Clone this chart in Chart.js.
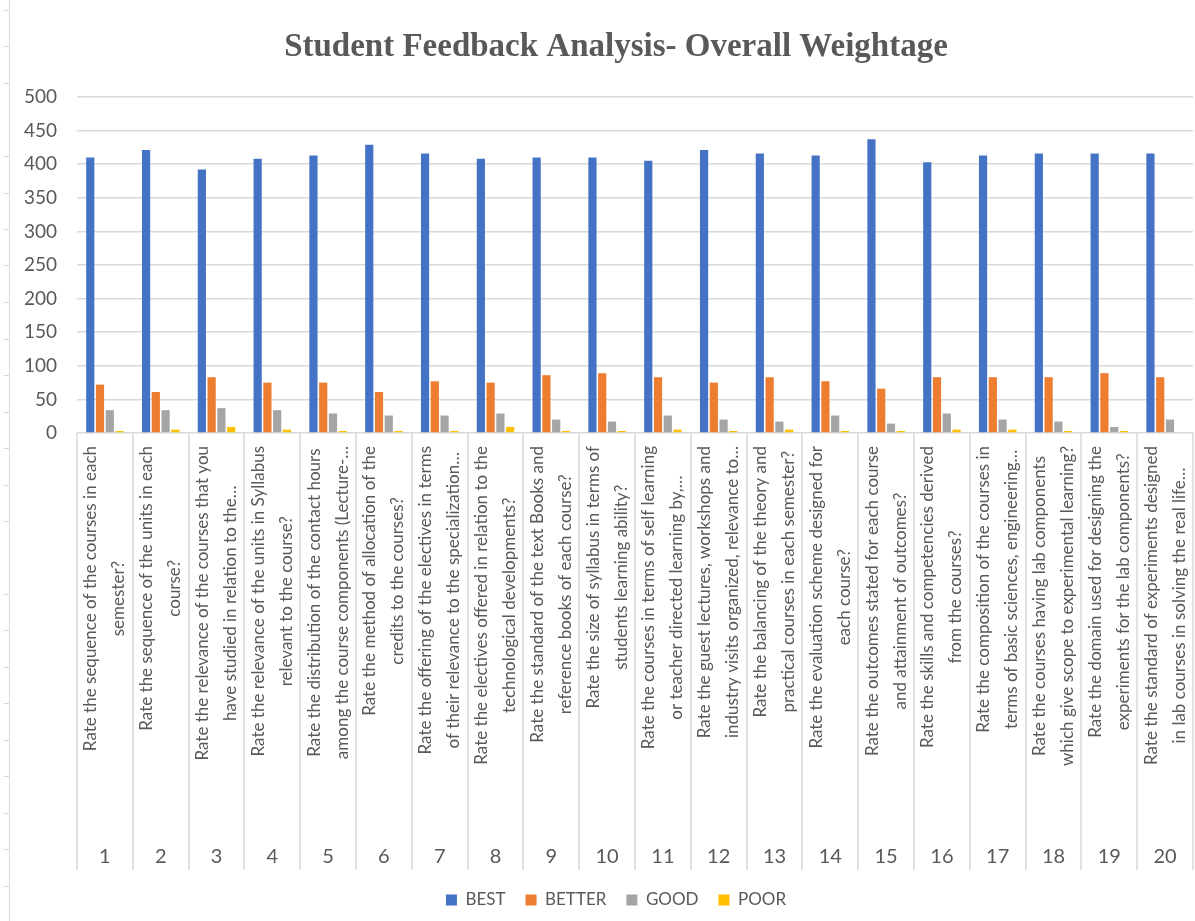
<!DOCTYPE html>
<html>
<head>
<meta charset="utf-8">
<title>Student Feedback Analysis</title>
<script src="https://cdn.jsdelivr.net/npm/chart.js@4.4.0/dist/chart.umd.min.js"></script>
<style>
  html, body { margin: 0; padding: 0; background: #fff; overflow: hidden; }
  #frame { position: absolute; left: 9px; top: 0; width: 1px; height: 921px; background: #d9d9d9; }
  #ticks {
    position: absolute; left: 4px; top: 0; width: 5px; height: 921px;
    background: repeating-linear-gradient(to bottom, transparent 0, transparent 10px, #d9d9d9 10px, #d9d9d9 11px, transparent 11px, transparent 36.5px);
  }
  #wrap { position: absolute; left: 10px; top: 0; width: 1212px; height: 921px; }
</style>
</head>
<body>
<div id="frame"></div>
<div id="ticks"></div>
<div id="wrap"><canvas id="chart"></canvas></div>
<script>
const questionNumbers = ['1', '2', '3', '4', '5', '6', '7', '8', '9', '10',
  '11', '12', '13', '14', '15', '16', '17', '18', '19', '20'];

const questionLabels = [
  ['Rate the sequence of the courses in each', 'semester?'],
  ['Rate the sequence of the units in each', 'course?'],
  ['Rate the relevance of the courses that you', 'have studied in relation to the…'],
  ['Rate the relevance of the units in Syllabus', 'relevant to the course?'],
  ['Rate the distribution of the contact hours', 'among the course components (Lecture-…'],
  ['Rate the method of allocation of the', 'credits to the courses?'],
  ['Rate the offering of the electives in terms', 'of their relevance to the specialization…'],
  ['Rate the electives offered in relation to the', 'technological developments?'],
  ['Rate the standard of the text Books and', 'reference books of each course?'],
  ['Rate the size of syllabus in terms of', 'students learning ability?'],
  ['Rate the courses in terms of self learning', 'or teacher directed learning by,…'],
  ['Rate the guest lectures, workshops and', 'industry visits organized, relevance to…'],
  ['Rate the balancing of the theory and', 'practical courses in each semester?'],
  ['Rate the evaluation scheme designed for', 'each course?'],
  ['Rate the outcomes stated for each course', 'and attainment of outcomes?'],
  ['Rate the skills and competencies derived', 'from the courses?'],
  ['Rate the composition of the courses in', 'terms of basic sciences, engineering…'],
  ['Rate the courses having lab components', 'which give scope to experimental learning?'],
  ['Rate the domain used for designing the', 'experiments for the lab components?'],
  ['Rate the standard of experiments designed', 'in lab courses in solving the real life…']
];

const best   = [410, 421, 392, 408, 413, 429, 416, 408, 410, 410, 405, 421, 416, 413, 437, 403, 413, 416, 416, 416];
const better = [72, 61, 83, 75, 75, 61, 77, 75, 86, 89, 83, 75, 83, 77, 66, 83, 83, 83, 89, 83];
const good   = [34, 34, 37, 34, 29, 26, 26, 29, 20, 17, 26, 20, 17, 26, 14, 29, 20, 17, 9, 20];
const poor   = [3, 5, 9, 5, 3, 3, 3, 9, 3, 3, 5, 3, 5, 3, 3, 5, 5, 3, 3, 0];

const textGray = '#595959';
const lineGray = '#d9d9d9';

// excel style two level category axis: rotated question text + question number
const twoLevelAxis = {
  id: 'twoLevelAxis',
  afterDraw(chart) {
    const { ctx, chartArea, scales: { x } } = chart;
    const top = chartArea.bottom;
    const bottom = top + 437;
    const catW = (chartArea.right - chartArea.left) / questionNumbers.length;
    ctx.save();
    ctx.strokeStyle = lineGray;
    ctx.lineWidth = 1.5;
    for (let i = 0; i <= questionNumbers.length; i++) {
      const bx = Math.round(chartArea.left + i * catW);
      ctx.beginPath();
      ctx.moveTo(bx, top);
      ctx.lineTo(bx, bottom);
      ctx.stroke();
    }
    ctx.fillStyle = textGray;
    ctx.font = '17px Lato';
    ctx.textAlign = 'center';
    ctx.textBaseline = 'middle';
    questionLabels.forEach((lines, i) => {
      const cx = x.getPixelForValue(i);
      const maxW = Math.max(...lines.map(l => ctx.measureText(l).width));
      const cy = top + 13 + maxW / 2;
      lines.forEach((line, j) => {
        ctx.save();
        ctx.translate(cx + (j - (lines.length - 1) / 2) * 28, cy);
        ctx.rotate(-Math.PI / 2);
        ctx.fillText(line, 0, 0);
        ctx.restore();
      });
    });
    ctx.font = '20px Lato';
    questionNumbers.forEach((n, i) => {
      ctx.fillText(n, x.getPixelForValue(i), top + 424);
    });
    ctx.restore();
  }
};

new Chart(document.getElementById('chart'), {
  type: 'bar',
  data: {
    labels: questionNumbers,
    datasets: [
      { label: 'BEST', data: best, backgroundColor: '#4472C4' },
      { label: 'BETTER', data: better, backgroundColor: '#ED7D31' },
      { label: 'GOOD', data: good, backgroundColor: '#A5A5A5' },
      { label: 'POOR', data: poor, backgroundColor: '#FFC000' }
    ]
  },
  options: {
    responsive: true,
    maintainAspectRatio: false,
    animation: false,
    layout: { padding: { left: 0, right: 0, top: 0, bottom: 9.5 } },
    datasets: { bar: { categoryPercentage: 0.7, barPercentage: 0.84 } },
    plugins: {
      title: {
        display: true,
        text: 'Student Feedback Analysis- Overall Weightage',
        color: textGray,
        font: { family: 'Liberation Serif', size: 33, weight: 'bold' },
        padding: { top: 28, bottom: 29.4 }
      },
      legend: {
        position: 'bottom',
        maxHeight: 40,
        labels: {
          boxWidth: 11,
          boxHeight: 11,
          padding: 20,
          color: textGray,
          font: { family: 'Lato', size: 17 }
        }
      },
      tooltip: { enabled: false }
    },
    scales: {
      x: {
        grid: { display: false },
        border: { display: false },
        ticks: { display: false },
        afterFit(scale) { scale.height = 438.5; }
      },
      y: {
        min: 0,
        max: 500,
        ticks: { stepSize: 50, padding: 20, color: textGray, font: { family: 'Lato', size: 19 } },
        grid: { color: lineGray, lineWidth: 1.5, drawTicks: false },
        border: { display: false },
        afterFit(scale) { scale.width = 67; }
      },
      // empty right strip: the reference plot runs off the cropped right edge
      yRight: {
        position: 'right',
        grid: { display: false },
        border: { display: false },
        ticks: { display: false },
        afterFit(scale) { scale.width = 29; }
      }
    }
  },
  plugins: [twoLevelAxis]
});
</script>
</body>
</html>
